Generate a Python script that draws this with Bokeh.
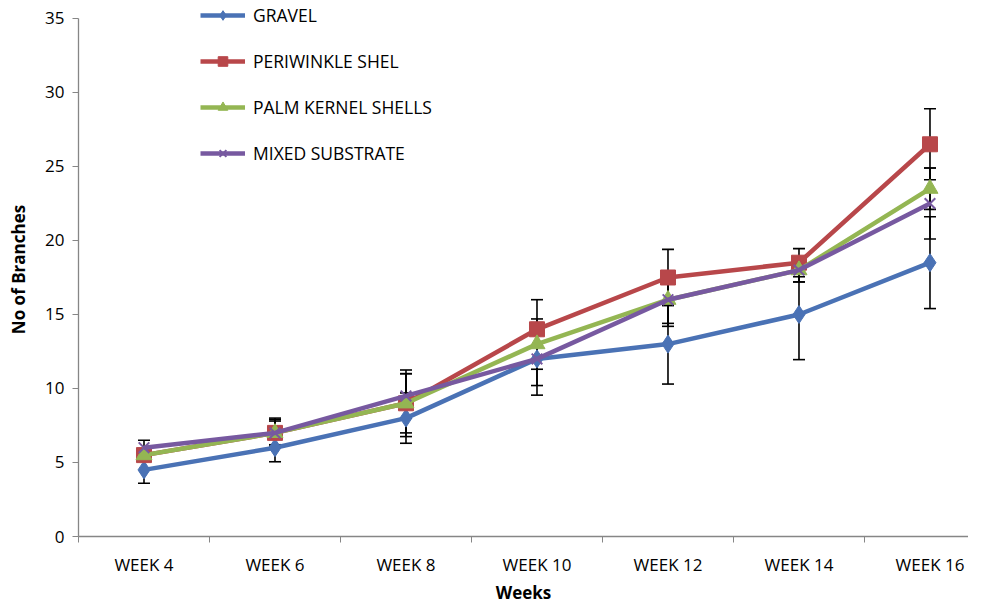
from bokeh.plotting import figure
from bokeh.models import (FixedTicker, Legend, LegendItem, Whisker, TeeHead,
                          ColumnDataSource, Range1d)
from bokeh.embed import file_html
from bokeh.resources import INLINE

weeks = ["WEEK 4", "WEEK 6", "WEEK 8", "WEEK 10", "WEEK 12", "WEEK 14", "WEEK 16"]

gravel = [4.5, 6.0, 8.0, 12.0, 13.0, 15.0, 18.5]
gravel_err = [0.9, 0.95, 1.7, 2.45, 2.7, 3.05, 3.1]

periwinkle = [5.5, 7.0, 9.0, 14.0, 17.5, 18.5, 26.5]
periwinkle_err = [0.4, 0.9, 2.25, 2.0, 1.9, 0.95, 2.4]

palm = [5.5, 7.0, 9.0, 13.0, 16.0, 18.0, 23.5]
palm_err = [0.4, 0.8, 2.0, 1.7, 1.6, 0.8, 1.4]

mixed = [6.0, 7.0, 9.5, 12.0, 16.0, 18.0, 22.5]
mixed_err = [0.5, 1.0, 1.5, 1.8, 1.8, 0.8, 2.4]

names = ["GRAVEL", "PERIWINKLE SHEL", "PALM KERNEL SHELLS", "MIXED SUBSTRATE"]
colors = ["#4A72B5", "#B8474A", "#94B653", "#7759A0"]
markers = ["diamond", "square", "triangle", "x"]
sizes = [18, 15, 16, 15]
series = [gravel, periwinkle, palm, mixed]
errors = [gravel_err, periwinkle_err, palm_err, mixed_err]

xs = list(range(len(weeks)))

FONT = "Open Sans"

# frame extends a little above 35 so that the legend (which sits above the
# top of the axis, as in the reference) is not clipped
p = figure(frame_width=890, frame_height=534, output_backend="svg", toolbar_location=None,
           x_range=Range1d(-0.5, 6.294), y_range=Range1d(0, 36.08),
           min_border_left=78, min_border_top=2, min_border_bottom=10,
           min_border_right=0)
p.outline_line_color = None
p.xgrid.visible = False
p.ygrid.visible = False
p.background_fill_color = "white"
p.border_fill_color = "white"

# axes
p.yaxis.ticker = FixedTicker(ticks=[0, 5, 10, 15, 20, 25, 30, 35])
p.yaxis.bounds = (0, 35)
p.xaxis.ticker = FixedTicker(ticks=xs, minor_ticks=[i - 0.5 for i in range(len(weeks) + 1)])
p.xaxis.major_label_overrides = {i: w for i, w in enumerate(weeks)}
for ax in (p.xaxis, p.yaxis):
    ax.axis_line_color = "#868686"
    ax.axis_line_width = 1.3
    ax.major_label_text_font = FONT
    ax.major_label_text_font_size = "17px"
    ax.major_label_text_color = "#000000"
    ax.axis_label_text_font = FONT
    ax.axis_label_text_font_size = "17px"
    ax.axis_label_text_font_style = "bold"
    ax.axis_label_text_color = "#000000"
p.xaxis.major_tick_line_color = None
p.xaxis.minor_tick_line_color = "#868686"
p.xaxis.minor_tick_out = 6
p.xaxis.minor_tick_in = 0
p.xaxis.major_label_standoff = 10
p.xaxis.axis_label = "Weeks"
p.xaxis.axis_label_standoff = 2
p.yaxis.major_tick_line_color = "#868686"
p.yaxis.major_tick_out = 6
p.yaxis.major_tick_in = 0
p.yaxis.minor_tick_line_color = None
p.yaxis.major_label_standoff = 8
p.yaxis.axis_label = "No of Branches"
p.yaxis.axis_label_standoff = 12

items = []
for name, col, mk, sz, ys, es in zip(names, colors, markers, sizes, series, errors):
    src = ColumnDataSource(dict(
        x=xs, y=ys,
        lo=[y - e for y, e in zip(ys, es)],
        hi=[y + e for y, e in zip(ys, es)],
    ))
    w = Whisker(source=src, base="x", lower="lo", upper="hi",
                line_color="black", line_width=1.6,
                upper_head=TeeHead(size=12, line_color="black", line_width=1.6),
                lower_head=TeeHead(size=12, line_color="black", line_width=1.6))
    p.add_layout(w)
    r_line = p.line("x", "y", source=src, line_color=col, line_width=4.5)
    if mk == "x":
        r_mk = p.scatter("x", "y", source=src, marker=mk, size=sz,
                         line_color=col, line_width=2)
    else:
        r_mk = p.scatter("x", "y", source=src, marker=mk, size=sz,
                         fill_color=col, line_color=col)
    items.append(LegendItem(label=name, renderers=[r_line, r_mk]))

legend = Legend(items=items, location=(122, 371), orientation="vertical",
                glyph_width=45, glyph_height=24, spacing=22, padding=0, margin=0,
                label_standoff=8, label_text_font=FONT, label_text_font_size="17.5px",
                label_text_color="#000000", background_fill_alpha=0,
                border_line_color=None)
p.add_layout(legend, "center")

open("out.html", "w").write(file_html(p, INLINE))
